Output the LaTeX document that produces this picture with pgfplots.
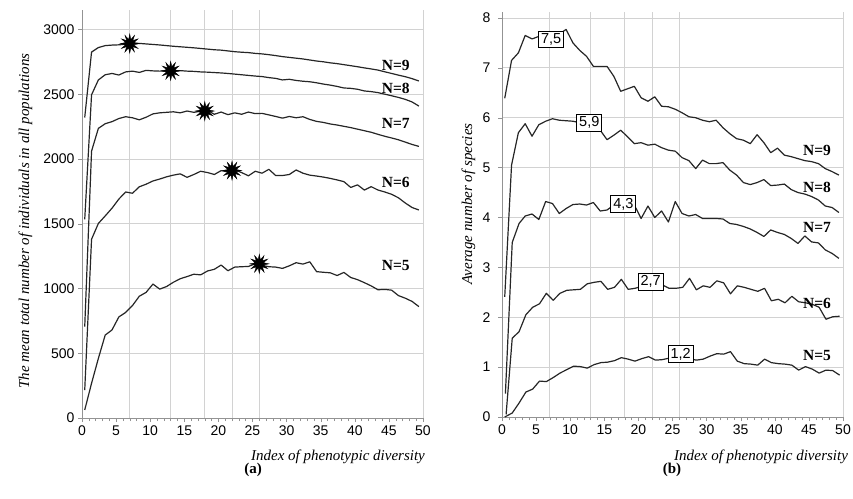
\documentclass[border=0pt]{standalone}
\usepackage{fontspec}
\setmainfont{Liberation Serif}
\setsansfont{Liberation Sans}
\usepackage{pgfplots}
\pgfplotsset{compat=1.18}

% 12-point burst used for the maxima in panel (a)
\newcommand\bp[2]{\pgfpathlineto{\pgfpointpolar{#1}{#2\pgfplotmarksize}}}
\pgfdeclareplotmark{burst}{%
  \pgfpathmoveto{\pgfpointpolar{0}{\pgfplotmarksize}}%
  \bp{15}{0.45}\bp{30}{1}\bp{45}{0.45}\bp{60}{1}\bp{75}{0.45}\bp{90}{1}%
  \bp{105}{0.45}\bp{120}{1}\bp{135}{0.45}\bp{150}{1}\bp{165}{0.45}\bp{180}{1}%
  \bp{195}{0.45}\bp{210}{1}\bp{225}{0.45}\bp{240}{1}\bp{255}{0.45}\bp{270}{1}%
  \bp{285}{0.45}\bp{300}{1}\bp{315}{0.45}\bp{330}{1}\bp{345}{0.45}%
  \pgfpathclose\pgfusepathqfillstroke}

\tikzset{
  crv/.style={black!85, line width=1.2pt, line join=round},
  nlab/.style={font=\bfseries\fontsize{15.5}{15.5}\selectfont},
  vbox/.style={draw=black, fill=white, line width=0.9pt, inner sep=2.4pt,
    font=\sffamily\fontsize{14.5}{14.5}\selectfont},
}

\pgfplotsset{
  panel/.style={
    scale only axis, width=341pt,
    xmin=0, xmax=50, xtick={0,5,...,50}, minor x tick num=4,
    axis lines=left, axis line style={-, draw=gray!85},
    tick align=outside, major tick length=4pt, minor tick length=3pt,
    tick style={gray!85, thin},
    ymajorgrids, grid style={gray!35, line width=0.8pt},
    extra x ticks={7,13,18,22,26,50}, extra x tick labels={},
    extra x tick style={grid=major, major tick length=0pt},
    ticklabel style={font=\sffamily\fontsize{14}{14}\selectfont},
    /pgf/number format/assume math mode=true,
    /pgf/number format/1000 sep={},
    label style={font=\itshape\fontsize{15}{15}\selectfont, inner sep=0pt},
    clip=false,
  },
}

\begin{document}
\begin{tikzpicture}
\useasboundingbox (0,0) rectangle (853pt,498pt);

% ---------------- panel (a)
\begin{axis}[panel, at={(82pt,80pt)}, anchor=south west,
    height=408pt, ymin=0, ymax=3150, ytick={0,500,...,3000},
    xlabel={Index of phenotypic diversity},
    xlabel style={at={(axis description cs:1.006,-0.105)}, anchor=base east},
    ylabel={The mean total number of individuals in all populations},
    ylabel style={at={(axis description cs:-0.155,0.483)}, anchor=base},
]
% N=9
\addplot[crv] coordinates {(0.4,2320) (1.4,2825) (2.4,2860) (3.4,2875) (4.4,2879) (5.4,2881) (6.4,2886) (7.4,2895) (8.4,2892) (9.4,2888) (10.4,2884) (11.4,2880) (12.4,2875) (13.4,2870) (14.4,2866) (15.4,2862) (16.4,2858) (17.4,2853) (18.4,2848) (19.4,2843) (20.4,2840) (21.4,2834) (22.4,2828) (23.4,2824) (24.4,2821) (25.4,2815) (26.4,2811) (27.4,2805) (28.4,2798) (29.4,2790) (30.4,2784) (31.4,2778) (32.4,2772) (33.4,2764) (34.4,2756) (35.4,2750) (36.4,2742) (37.4,2736) (38.4,2728) (39.4,2720) (40.4,2712) (41.4,2703) (42.4,2695) (43.4,2686) (44.4,2673) (45.4,2660) (46.4,2647) (47.4,2635) (48.4,2620) (49.4,2602)};
% N=8
\addplot[crv] coordinates {(0.4,1533) (1.4,2495) (2.4,2610) (3.4,2650) (4.4,2660) (5.4,2648) (6.4,2672) (7.4,2678) (8.4,2668) (9.4,2684) (10.4,2680) (11.4,2678) (12.4,2680) (13.4,2680) (14.4,2682) (15.4,2678) (16.4,2676) (17.4,2672) (18.4,2670) (19.4,2667) (20.4,2664) (21.4,2660) (22.4,2655) (23.4,2650) (24.4,2645) (25.4,2640) (26.4,2636) (27.4,2628) (28.4,2622) (29.4,2610) (30.4,2615) (31.4,2606) (32.4,2600) (33.4,2596) (34.4,2588) (35.4,2578) (36.4,2570) (37.4,2560) (38.4,2548) (39.4,2545) (40.4,2538) (41.4,2525) (42.4,2520) (43.4,2512) (44.4,2500) (45.4,2488) (46.4,2475) (47.4,2460) (48.4,2440) (49.4,2408)};
% N=7
\addplot[crv] coordinates {(0.4,705) (1.4,2060) (2.4,2236) (3.4,2272) (4.4,2288) (5.4,2312) (6.4,2326) (7.4,2318) (8.4,2302) (9.4,2322) (10.4,2348) (11.4,2356) (12.4,2360) (13.4,2364) (14.4,2356) (15.4,2370) (16.4,2360) (17.4,2368) (18.4,2374) (19.4,2345) (20.4,2362) (21.4,2342) (22.4,2356) (23.4,2345) (24.4,2362) (25.4,2350) (26.4,2352) (27.4,2340) (28.4,2328) (29.4,2315) (30.4,2328) (31.4,2318) (32.4,2326) (33.4,2305) (34.4,2290) (35.4,2282) (36.4,2270) (37.4,2262) (38.4,2252) (39.4,2242) (40.4,2230) (41.4,2218) (42.4,2206) (43.4,2190) (44.4,2175) (45.4,2162) (46.4,2148) (47.4,2130) (48.4,2112) (49.4,2097)};
% N=6
\addplot[crv] coordinates {(0.4,216) (1.4,1380) (2.4,1502) (3.4,1560) (4.4,1620) (5.4,1690) (6.4,1745) (7.4,1735) (8.4,1785) (9.4,1805) (10.4,1830) (11.4,1845) (12.4,1862) (13.4,1875) (14.4,1885) (15.4,1858) (16.4,1880) (17.4,1905) (18.4,1895) (19.4,1880) (20.4,1910) (21.4,1900) (22.4,1915) (23.4,1895) (24.4,1870) (25.4,1905) (26.4,1890) (27.4,1920) (28.4,1872) (29.4,1872) (30.4,1880) (31.4,1915) (32.4,1890) (33.4,1875) (34.4,1868) (35.4,1860) (36.4,1850) (37.4,1838) (38.4,1825) (39.4,1780) (40.4,1800) (41.4,1760) (42.4,1786) (43.4,1760) (44.4,1745) (45.4,1727) (46.4,1700) (47.4,1660) (48.4,1625) (49.4,1606)};
% N=5
\addplot[crv] coordinates {(0.4,62) (1.4,268) (2.4,460) (3.4,640) (4.4,680) (5.4,780) (6.4,815) (7.4,868) (8.4,940) (9.4,970) (10.4,1034) (11.4,995) (12.4,1015) (13.4,1048) (14.4,1075) (15.4,1092) (16.4,1110) (17.4,1105) (18.4,1135) (19.4,1148) (20.4,1181) (21.4,1137) (22.4,1165) (23.4,1168) (24.4,1170) (25.4,1190) (26.4,1178) (27.4,1168) (28.4,1165) (29.4,1155) (30.4,1175) (31.4,1199) (32.4,1188) (33.4,1206) (34.4,1130) (35.4,1125) (36.4,1121) (37.4,1100) (38.4,1124) (39.4,1085) (40.4,1068) (41.4,1045) (42.4,1020) (43.4,990) (44.4,993) (45.4,987) (46.4,945) (47.4,925) (48.4,900) (49.4,860)};
% maxima
\addplot[only marks, mark=burst, mark size=9.5pt, black, line width=0.4pt]
  coordinates {(7,2890) (13,2680) (18,2370) (22,1910) (26,1190)};
\node[nlab] at (axis cs:46,2722) {N=9};
\node[nlab] at (axis cs:46,2545) {N=8};
\node[nlab] at (axis cs:46,2276) {N=7};
\node[nlab] at (axis cs:46,1821) {N=6};
\node[nlab] at (axis cs:46,1181) {N=5};
\end{axis}

% ---------------- panel (b)
\begin{axis}[panel, at={(502pt,81pt)}, anchor=south west,
    height=405pt, ymin=0, ymax=8.12, ytick={0,1,...,8},
    yticklabel style={xshift=-4pt},
    xlabel={Index of phenotypic diversity},
    xlabel style={at={(axis description cs:1.015,-0.108)}, anchor=base east},
    ylabel={Average number of species},
    ylabel style={at={(axis description cs:-0.088,0.526)}, anchor=base},
]
% N=9
\addplot[crv] coordinates {(0.4,6.39) (1.4,7.15) (2.4,7.3) (3.4,7.65) (4.4,7.58) (5.4,7.63) (6.4,7.6) (7.4,7.62) (8.4,7.68) (9.4,7.77) (10.4,7.5) (11.4,7.35) (12.4,7.23) (13.4,7.03) (14.4,7.03) (15.4,7.03) (16.4,6.83) (17.4,6.53) (18.4,6.58) (19.4,6.63) (20.4,6.4) (21.4,6.33) (22.4,6.42) (23.4,6.23) (24.4,6.22) (25.4,6.17) (26.4,6.1) (27.4,6.02) (28.4,6.0) (29.4,5.95) (30.4,5.92) (31.4,5.95) (32.4,5.8) (33.4,5.68) (34.4,5.58) (35.4,5.55) (36.4,5.48) (37.4,5.66) (38.4,5.5) (39.4,5.3) (40.4,5.39) (41.4,5.25) (42.4,5.22) (43.4,5.18) (44.4,5.14) (45.4,5.12) (46.4,5.08) (47.4,4.98) (48.4,4.92) (49.4,4.85)};
% N=8
\addplot[crv] coordinates {(0.4,2.41) (1.4,5.05) (2.4,5.7) (3.4,5.88) (4.4,5.63) (5.4,5.86) (6.4,5.93) (7.4,5.98) (8.4,5.95) (9.4,5.94) (10.4,5.93) (11.4,5.9) (12.4,5.88) (13.4,5.85) (14.4,5.75) (15.4,5.56) (16.4,5.65) (17.4,5.75) (18.4,5.62) (19.4,5.48) (20.4,5.5) (21.4,5.45) (22.4,5.47) (23.4,5.4) (24.4,5.35) (25.4,5.33) (26.4,5.2) (27.4,5.14) (28.4,4.98) (29.4,5.15) (30.4,5.08) (31.4,5.08) (32.4,5.1) (33.4,4.95) (34.4,4.85) (35.4,4.7) (36.4,4.66) (37.4,4.7) (38.4,4.76) (39.4,4.64) (40.4,4.65) (41.4,4.67) (42.4,4.56) (43.4,4.5) (44.4,4.47) (45.4,4.42) (46.4,4.35) (47.4,4.23) (48.4,4.2) (49.4,4.1)};
% N=7
\addplot[crv] coordinates {(0.5,0.47) (1.5,3.5) (2.5,3.88) (3.4,4.03) (4.4,4.07) (5.4,3.96) (6.4,4.32) (7.4,4.28) (8.4,4.08) (9.4,4.18) (10.4,4.26) (11.4,4.27) (12.4,4.25) (13.4,4.3) (14.4,4.13) (15.4,4.15) (16.4,4.25) (17.4,4.3) (18.4,4.3) (19.4,4.25) (20.4,3.98) (21.4,4.23) (22.4,4.0) (23.4,4.13) (24.4,3.91) (25.4,4.32) (26.4,4.08) (27.4,4.03) (28.4,4.06) (29.4,3.98) (30.4,3.98) (31.4,3.98) (32.4,3.97) (33.4,3.88) (34.4,3.86) (35.4,3.82) (36.4,3.77) (37.4,3.7) (38.4,3.62) (39.4,3.75) (40.4,3.7) (41.4,3.66) (42.4,3.58) (43.4,3.48) (44.4,3.63) (45.4,3.51) (46.4,3.49) (47.4,3.35) (48.4,3.28) (49.4,3.18)};
% N=6
\addplot[crv] coordinates {(0.6,0.05) (1.5,1.58) (2.5,1.71) (3.5,2.05) (4.5,2.2) (5.5,2.27) (6.5,2.48) (7.5,2.34) (8.5,2.48) (9.5,2.54) (10.5,2.55) (11.5,2.56) (12.5,2.67) (13.5,2.7) (14.5,2.72) (15.5,2.56) (16.5,2.6) (17.5,2.76) (18.5,2.56) (19.5,2.58) (20.5,2.62) (21.5,2.65) (22.5,2.7) (23.5,2.65) (24.5,2.58) (25.5,2.58) (26.5,2.6) (27.5,2.78) (28.5,2.55) (29.5,2.63) (30.5,2.6) (31.5,2.73) (32.5,2.69) (33.5,2.47) (34.5,2.63) (35.5,2.6) (36.5,2.56) (37.5,2.52) (38.5,2.58) (39.5,2.33) (40.5,2.36) (41.5,2.29) (42.5,2.42) (43.5,2.31) (44.5,2.29) (45.5,2.26) (46.5,2.2) (47.5,1.96) (48.5,2.01) (49.5,2.02)};
% N=5
\addplot[crv] coordinates {(0.4,0.0) (1.5,0.08) (2.5,0.28) (3.5,0.5) (4.5,0.56) (5.5,0.72) (6.5,0.71) (7.5,0.79) (8.5,0.88) (9.5,0.95) (10.5,1.02) (11.5,1.01) (12.5,0.98) (13.5,1.05) (14.5,1.09) (15.5,1.1) (16.5,1.13) (17.5,1.19) (18.5,1.16) (19.5,1.12) (20.5,1.17) (21.5,1.21) (22.5,1.14) (23.5,1.15) (24.5,1.18) (25.5,1.2) (26.5,1.19) (27.5,1.17) (28.5,1.14) (29.5,1.16) (30.5,1.22) (31.5,1.27) (32.5,1.26) (33.5,1.31) (34.5,1.12) (35.5,1.07) (36.5,1.06) (37.5,1.04) (38.5,1.16) (39.5,1.09) (40.5,1.07) (41.5,1.06) (42.5,1.04) (43.5,0.94) (44.5,1.01) (45.5,0.96) (46.5,0.88) (47.5,0.94) (48.5,0.93) (49.5,0.84)};
\node[vbox] at (axis cs:7.2,7.57) {7,5};
\node[vbox] at (axis cs:12.8,5.9) {5,9};
\node[vbox] at (axis cs:17.8,4.27) {4,3};
\node[vbox] at (axis cs:21.8,2.71) {2,7};
\node[vbox] at (axis cs:26.2,1.26) {1,2};
\node[nlab] at (axis cs:46.2,5.35) {N=9};
\node[nlab] at (axis cs:46.2,4.61) {N=8};
\node[nlab] at (axis cs:46.2,3.81) {N=7};
\node[nlab] at (axis cs:46.2,2.28) {N=6};
\node[nlab] at (axis cs:46.2,1.24) {N=5};
\end{axis}

\node[font=\bfseries\fontsize{15}{15}\selectfont] at (253pt,28pt) {(a)};
\node[font=\bfseries\fontsize{15}{15}\selectfont] at (672pt,28pt) {(b)};
\end{tikzpicture}
\end{document}
